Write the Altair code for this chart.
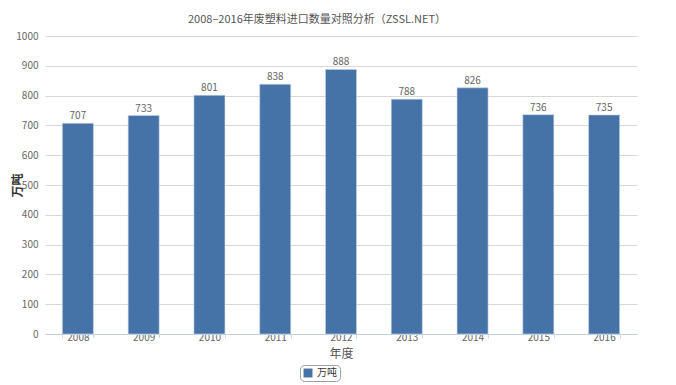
import altair as alt
import pandas as pd

years = ["2008", "2009", "2010", "2011", "2012", "2013", "2014", "2015", "2016"]
values = [707, 733, 801, 838, 888, 788, 826, 736, 735]
series = "万吨"
y_ticks = [0, 100, 200, 300, 400, 500, 600, 700, 800, 900, 1000]

df = pd.DataFrame({"year": years, "value": values, "series": [series] * len(years)})

FONT = "Noto Sans CJK SC"

x_enc = alt.X("year:N", title="年度", sort=years,
              axis=alt.Axis(labelAngle=0, labelFontSize=10, labelColor="#666666",
                            titleFontSize=12, titleColor="#555555", titleFontWeight="normal",
                            titlePadding=6, domainColor="#C0D0E0", tickColor="#D0DAE6",
                            tickBand="extent", tickSize=4, labelPadding=-6, grid=False))
y_enc = alt.Y("value:Q", title="万吨", scale=alt.Scale(domain=[0, 1000], nice=False),
              axis=alt.Axis(values=y_ticks, format="d", labelFontSize=10,
                            labelColor="#666666", domain=False, ticks=False, labelPadding=7,
                            gridColor="#D8D8D8", titleFontSize=12, titleColor="#333333",
                            titleFontWeight="bold", titleX=-28, titleY=149,
                            titleBaseline="middle", labelOverlap=False))

base = alt.Chart(df)

bars = base.mark_bar(size=31, stroke="#C8D4E4", strokeWidth=0.6).encode(
    x=x_enc,
    y=y_enc,
    color=alt.Color("series:N", scale=alt.Scale(range=["#4572A7"]),
                    legend=alt.Legend(title=None, orient="none", legendX=255, legendY=329,
                                      strokeColor="#A0A0A0", cornerRadius=4, padding=3,
                                      symbolType="square", symbolSize=80, labelFontSize=10,
                                      labelColor="#333333", symbolStrokeWidth=0)),
)

labels = base.mark_text(dy=-7, fontSize=10, color="#666666", font=FONT).encode(
    x=x_enc,
    y=y_enc,
    text="value:Q",
)

chart = (bars + labels).properties(
    width=592, height=298,
    autosize=alt.AutoSizeParams(type="none"),
    padding={"left": 37, "top": 28, "right": 31, "bottom": 50},
    title=alt.TitleParams("2008–2016年废塑料进口数量对照分析（ZSSL.NET）", fontSize=11,
                          fontWeight="normal", color="#555555", font=FONT, offset=6, dx=-24),
).configure(font=FONT).configure_view(stroke=None).configure_scale(bandPaddingInner=0.53, bandPaddingOuter=0.265)

chart.save("out.html", embed_options={"renderer": "svg", "actions": False})
